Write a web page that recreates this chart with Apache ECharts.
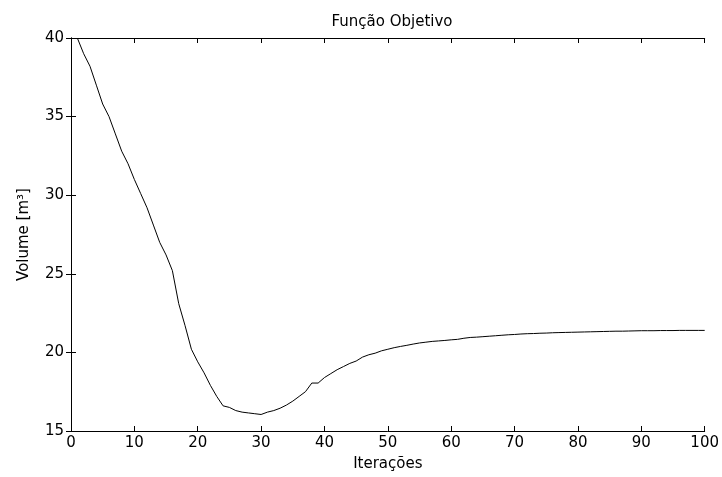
<!DOCTYPE html>
<html>
<head>
<meta charset="utf-8">
<script src="https://cdn.jsdelivr.net/npm/echarts@6/dist/echarts.min.js"></script>
<style>html,body{margin:0;padding:0;background:#fff}#c{width:722px;height:477px}</style>
</head>
<body>
<div id="c"></div>
<script>
const iterations = Array.from({length: 100}, (_, i) => i + 1);
const volume = [
  40.0, 39.0, 38.2, 37.0, 35.8, 35.0, 33.9, 32.8, 32.0, 31.0,
  30.1, 29.2, 28.1, 27.0, 26.2, 25.2, 23.1, 21.7, 20.2, 19.4,
  18.7, 17.9, 17.2, 16.6, 16.5, 16.3, 16.2, 16.15, 16.1, 16.05,
  16.2, 16.3, 16.45, 16.65, 16.9, 17.2, 17.5, 18.05, 18.05, 18.4,
  18.65, 18.9, 19.1, 19.3, 19.45, 19.7, 19.85, 19.95, 20.1, 20.2,
  20.3, 20.38, 20.45, 20.53, 20.6, 20.65, 20.7, 20.73, 20.76, 20.8,
  20.83, 20.9, 20.95, 20.97, 21.0, 21.03, 21.06, 21.09, 21.12, 21.14,
  21.17, 21.19, 21.2, 21.22, 21.23, 21.25, 21.26, 21.27, 21.28, 21.29,
  21.3, 21.31, 21.32, 21.33, 21.34, 21.35, 21.35, 21.36, 21.37, 21.38,
  21.38, 21.38, 21.39, 21.39, 21.39, 21.4, 21.4, 21.4, 21.4, 21.4
];
const xTicks = [0, 10, 20, 30, 40, 50, 60, 70, 80, 90, 100];
const yTicks = [15, 20, 25, 30, 35, 40];

const font = 'DejaVu Sans, Arial, sans-serif';
const fs = 15;
const chart = echarts.init(document.getElementById('c'), null, {renderer: 'canvas'});
const axLine = {show: true, lineStyle: {color: '#000', width: 1}};
const tick = {show: true, inside: true, length: 5, lineStyle: {color: '#000'}};
chart.setOption({
  animation: false,
  backgroundColor: '#fff',
  title: {
    text: 'Função Objetivo', left: 387, top: 10, textAlign: 'center',
    textStyle: {fontFamily: font, fontSize: fs, fontWeight: 'normal', color: '#000'}
  },
  grid: {left: 71, right: 16, top: 38, bottom: 44},
  xAxis: [
    {type: 'value', min: xTicks[0], max: xTicks[xTicks.length - 1], interval: 10,
     position: 'bottom', axisLine: axLine, axisTick: tick, splitLine: {show: false},
     axisLabel: {color: '#000', fontFamily: font, fontSize: fs, margin: 5},
     name: 'Iterações', nameLocation: 'middle', nameGap: 26,
     nameTextStyle: {color: '#000', fontFamily: font, fontSize: fs}},
    {type: 'value', min: xTicks[0], max: xTicks[xTicks.length - 1], interval: 10,
     position: 'top', axisLine: axLine, axisTick: tick, splitLine: {show: false},
     axisLabel: {show: false}}
  ],
  yAxis: [
    {type: 'value', min: yTicks[0], max: yTicks[yTicks.length - 1], interval: 5,
     position: 'left', axisLine: axLine, axisTick: tick, splitLine: {show: false},
     axisLabel: {color: '#000', fontFamily: font, fontSize: fs, margin: 7},
     name: 'Volume [m³]', nameLocation: 'middle', nameGap: 39, nameRotate: 90,
     nameTextStyle: {color: '#000', fontFamily: font, fontSize: fs}},
    {type: 'value', min: yTicks[0], max: yTicks[yTicks.length - 1], interval: 5,
     position: 'right', axisLine: axLine, axisTick: tick, splitLine: {show: false},
     axisLabel: {show: false}}
  ],
  series: [{
    type: 'line', xAxisIndex: 0, yAxisIndex: 0,
    data: iterations.map((x, i) => [x, volume[i]]),
    showSymbol: false, symbol: 'none',
    lineStyle: {color: '#000', width: 1}
  }]
});
</script>
</body>
</html>
